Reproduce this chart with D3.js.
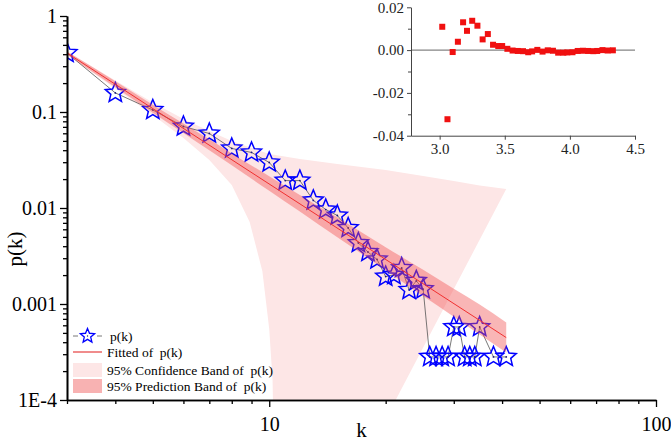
<!DOCTYPE html>
<html>
<head>
<meta charset="utf-8">
<script src="https://cdn.jsdelivr.net/npm/d3@7"></script>
<style>
  body { margin: 0; background: #fff; }
  text { font-family: "Liberation Serif", "Times New Roman", serif; white-space: pre; }
</style>
</head>
<body>
<svg id="vis" width="671" height="442"></svg>
<script>
// degree distribution p(k)
const kVals = [3, 4, 5, 6, 7, 8, 9, 10, 11, 12, 13, 14, 15, 16, 17, 18, 19, 20, 21, 22, 23, 24, 25,
  26, 27, 28, 29, 30, 31, 32, 33, 34, 35, 38, 41]
const pVals = [0.412, 0.158, 0.105, 0.0706, 0.0597, 0.0417, 0.0379, 0.0298, 0.0193, 0.0193,
  0.0120, 0.00964, 0.00835, 0.00619, 0.00432, 0.00348, 0.00291, 0.00193, 0.00201, 0.00237,
  0.00140, 0.00174, 0.00143,
  0.000281, 0.000281, 0.000281, 0.000281, 0.000576, 0.000576, 0.000281, 0.000281, 0.000281,
  0.000576, 0.000281, 0.000281]

// fitted power law
const fitK = [3, 41]
const fitP = [0.412, 0.000447]

// narrow (dark) band
const bandK = [3, 4, 5, 6, 7, 8, 10, 12, 15, 20, 25, 30, 35, 41]
const predUpper = [0.4268, 0.2089, 0.1191, 0.0759, 0.0519, 0.0370, 0.02145, 0.01366, 0.00800,
  0.00391, 0.00227, 0.00144, 0.000986, 0.000640]
const predLower = [0.3972, 0.1809, 0.0983, 0.0604, 0.0399, 0.0278, 0.01514, 0.00919, 0.00495,
  0.00225, 0.00121, 0.000736, 0.000480, 0.000312]

// wide (light) band
const confUpper = [0.427, 0.2129, 0.1256, 0.0845, 0.0634, 0.0499, 0.0365, 0.0324, 0.0287,
  0.0249, 0.0215, 0.0191, 0.01716, 0.01577]
const confLowerK = [3, 4, 5, 6, 7, 8, 8.9, 9.6, 10, 10.2, 10.3, 10.35]
const confLower = [0.3925, 0.1757, 0.0931, 0.0536, 0.0316, 0.01737, 0.00715, 0.0022, 0.00055,
  0.000162, 0.0000187, 0.0000004]

// residuals (inset)
const resX = [3.02, 3.06, 3.10, 3.14, 3.18, 3.21, 3.25, 3.29, 3.33, 3.37, 3.41, 3.45, 3.48, 3.52,
  3.56, 3.60, 3.64, 3.68, 3.71, 3.75, 3.79, 3.83, 3.87, 3.91, 3.95, 3.98, 4.02, 4.06, 4.10, 4.14,
  4.18, 4.21, 4.25, 4.29, 4.33]
const resY = [0.0109, -0.0323, -0.0009, 0.0039, 0.0130, 0.0090, 0.0137, 0.0114, 0.0050, 0.0075,
  0.0025, 0.0019, 0.0019, 0.0006, -0.0002, -0.0004, -0.0005, -0.0010, -0.0006, 0.0001, -0.0007,
  -0.0001, -0.0003, -0.0012, -0.0012, -0.0011, -0.0010, -0.0004, -0.0003, -0.0004, -0.0005,
  -0.0004, 0.0000, -0.0002, -0.0001]

const yTickVals = [1e-4, 1e-3, 1e-2, 0.1, 1]
const yTickLabels = ['1E-4', '0.001', '0.01', '0.1', '1']
const xTickVals = [10, 100]
const xTickLabels = ['10', '100']
const insetXTicks = [3.0, 3.5, 4.0, 4.5]
const insetYTicks = [-0.04, -0.02, 0, 0.02]

const legendItems = ['p(k)', 'Fitted of  p(k)', '95% Confidence Band of  p(k)', '95% Prediction Band of  p(k)']

const svg = d3.select('#vis')
const mLeft = 67, mRight = 656, mTop = 16, mBottom = 400

const x = d3.scaleLog().domain([3, 100]).range([mLeft, mRight])
const y = d3.scaleLog().domain([1e-4, 1]).range([mBottom, mTop])

svg.append('clipPath').attr('id', 'plot')
  .append('rect').attr('x', mLeft).attr('y', mTop).attr('width', mRight - mLeft).attr('height', mBottom - mTop)

function starPath(R) {
  const r = R * 0.45
  const pts = []
  for (let i = 0; i < 10; i++) {
    const a = -Math.PI / 2 + i * Math.PI / 5
    const rr = i % 2 ? r : R
    pts.push([rr * Math.cos(a), rr * Math.sin(a)])
  }
  return 'M' + pts.map(p => p.join(',')).join('L') + 'Z'
}

const plot = svg.append('g').attr('clip-path', 'url(#plot)')

// light band: upper curve then lower curve back
const confPts = bandK.map((k, i) => [k, confUpper[i]])
  .concat(confLowerK.map((k, i) => [k, confLower[i]]).reverse())
plot.append('path')
  .attr('d', d3.line().x(d => x(d[0])).y(d => y(d[1]))(confPts) + 'Z')
  .attr('fill', '#fde6e6')

// data line + stars
plot.append('path')
  .attr('d', d3.line().x((d, i) => x(kVals[i])).y(d => y(d))(pVals))
  .attr('fill', 'none')
  .attr('stroke', '#555')
  .attr('stroke-width', 0.8)

const stars = plot.selectAll('g.star')
  .data(kVals)
  .enter()
  .append('g')
  .attr('class', 'star')
  .attr('transform', (d, i) => `translate(${x(d)},${y(pVals[i])})`)
stars.append('path')
  .attr('d', starPath(10.5))
  .attr('fill', 'none')
  .attr('stroke', '#0000ff')
  .attr('stroke-width', 1.5)
stars.append('circle')
  .attr('r', 0.9)
  .attr('fill', '#1a1a80')

// dark band over stars
plot.append('path')
  .attr('d', d3.area()
    .x(d => x(d))
    .y0((d, i) => y(predLower[i]))
    .y1((d, i) => y(predUpper[i]))
    .curve(d3.curveMonotoneX)(bandK))
  .attr('fill', 'rgb(240,80,80)')
  .attr('fill-opacity', 0.42)

plot.append('path')
  .attr('d', d3.line().x((d, i) => x(fitK[i])).y(d => y(d))(fitP))
  .attr('stroke', '#f03030')
  .attr('stroke-width', 1)

// axes
const yMinor = []
const xMinor = []
for (let e = -4; e < 0; e++) for (let m = 2; m < 10; m++) yMinor.push(m * Math.pow(10, e))
for (let e = 0; e < 2; e++) for (let m = 2; m < 10; m++) {
  const v = m * Math.pow(10, e)
  if (v >= 3 && v < 100) xMinor.push(v)
}

function styleAxis(g) {
  g.select('.domain').attr('stroke', '#000').attr('stroke-width', 1.6)
  g.selectAll('.tick line').attr('stroke', '#000').attr('stroke-width', 1.3)
  g.selectAll('text').attr('font-size', 20).attr('fill', '#000')
}

svg.append('g').attr('transform', `translate(${mLeft},0)`)
  .call(d3.axisLeft(y).tickValues(yMinor).tickSize(4).tickFormat('').tickSizeOuter(0))
  .call(styleAxis)
svg.append('g').attr('transform', `translate(${mLeft},0)`)
  .call(d3.axisLeft(y).tickValues(yTickVals).tickSize(7).tickPadding(3).tickSizeOuter(0)
    .tickFormat((d, i) => yTickLabels[i]))
  .call(styleAxis)

svg.append('g').attr('transform', `translate(0,${mBottom})`)
  .call(d3.axisBottom(x).tickValues(xMinor).tickSize(4).tickFormat('').tickSizeOuter(0))
  .call(styleAxis)
svg.append('g').attr('transform', `translate(0,${mBottom})`)
  .call(d3.axisBottom(x).tickValues(xTickVals).tickSize(7).tickPadding(10).tickSizeOuter(0)
    .tickFormat((d, i) => xTickLabels[i]))
  .call(styleAxis)

svg.append('text')
  .attr('x', (mLeft + mRight) / 2)
  .attr('y', 437)
  .attr('text-anchor', 'middle')
  .attr('font-size', 21)
  .text('k')

svg.append('text')
  .attr('transform', 'translate(22,249) rotate(-90)')
  .attr('text-anchor', 'middle')
  .attr('font-size', 21)
  .text('p(k)')

// legend
const legend = svg.append('g')
const rowY = [336, 352, 370, 386]
legend.append('line')
  .attr('x1', 73).attr('x2', 102).attr('y1', rowY[0]).attr('y2', rowY[0])
  .attr('stroke', '#555').attr('stroke-width', 0.8).attr('stroke-dasharray', '5,19')
legend.append('path')
  .attr('transform', `translate(87.5,${rowY[0]})`)
  .attr('d', starPath(7.5))
  .attr('fill', 'none').attr('stroke', '#0000ff').attr('stroke-width', 1.3)
legend.append('circle')
  .attr('cx', 87.5).attr('cy', rowY[0]).attr('r', 0.7).attr('fill', '#1a1a80')
legend.append('line')
  .attr('x1', 73).attr('x2', 102).attr('y1', rowY[1]).attr('y2', rowY[1])
  .attr('stroke', '#f08c8c').attr('stroke-width', 2)
legend.append('rect')
  .attr('x', 73).attr('y', rowY[2] - 7).attr('width', 29).attr('height', 14)
  .attr('fill', '#fde6e6')
legend.append('rect')
  .attr('x', 73).attr('y', rowY[3] - 7).attr('width', 29).attr('height', 14)
  .attr('fill', '#f8b2b2')
legend.selectAll('text.lbl')
  .data(legendItems)
  .enter()
  .append('text')
  .attr('class', 'lbl')
  .attr('x', (d, i) => i === 0 ? 110 : 107)
  .attr('y', (d, i) => rowY[i])
  .attr('dy', '0.35em')
  .attr('font-size', 13.5)
  .text(d => d)

// inset: residuals
const ix = d3.scaleLinear().domain([2.78, 4.5]).range([411, 635])
const iy = d3.scaleLinear().domain([-0.04, 0.02]).range([135.7, 7.3])
const inset = svg.append('g')

inset.append('line')
  .attr('x1', ix.range()[0]).attr('x2', ix.range()[1])
  .attr('y1', iy(0)).attr('y2', iy(0))
  .attr('stroke', '#666').attr('stroke-width', 1)

inset.selectAll('rect.res')
  .data(resX)
  .enter()
  .append('rect')
  .attr('class', 'res')
  .attr('x', d => ix(d) - 3)
  .attr('y', (d, i) => iy(resY[i]) - 3)
  .attr('width', 6)
  .attr('height', 6)
  .attr('fill', '#f01010')

function styleInset(g) {
  g.select('.domain').attr('stroke', '#444').attr('stroke-width', 1)
  g.selectAll('.tick line').attr('stroke', '#444')
  g.selectAll('text').attr('font-size', 15).attr('fill', '#222')
}

inset.append('g').attr('transform', 'translate(411,0)')
  .call(d3.axisLeft(iy).tickValues([-0.03, -0.01, 0.01]).tickSize(3).tickFormat('').tickSizeOuter(0))
  .call(styleInset)
inset.append('g').attr('transform', 'translate(411,0)')
  .call(d3.axisLeft(iy).tickValues(insetYTicks).tickSize(4).tickPadding(3).tickSizeOuter(0)
    .tickFormat(d => d.toFixed(2)))
  .call(styleInset)
inset.append('g').attr('transform', `translate(0,${iy(-0.04)})`)
  .call(d3.axisBottom(ix).tickValues(insetXTicks).tickSize(4).tickPadding(4).tickSizeOuter(0)
    .tickFormat(d => d.toFixed(1)))
  .call(styleInset)
</script>
</body>
</html>
